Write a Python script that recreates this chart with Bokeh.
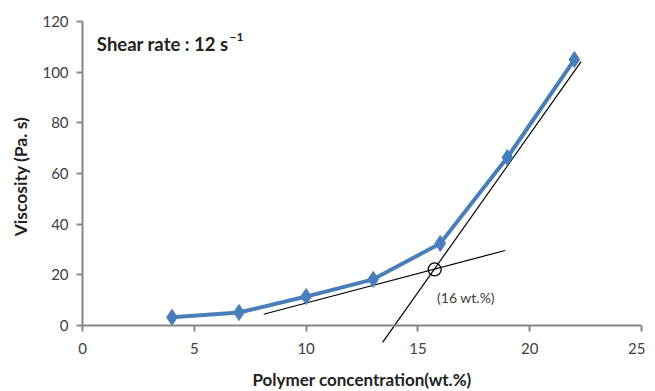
import math
from bokeh.plotting import figure
from bokeh.models import LinearAxis, Label, FixedTicker, Range1d
from bokeh.embed import file_html
from bokeh.resources import INLINE

concentration = [4, 7, 10, 13, 16, 19, 22]
viscosity = [3.2, 5.1, 11.4, 18.2, 32.4, 66.3, 105]

low_tangent_x = [8.1, 18.9]
low_tangent_y = [4.4, 29.6]
steep_tangent_x = [13.42, 22.3]
steep_tangent_y = [-6.7, 104.2]
crossing_x = [15.75]
crossing_y = [22.1]

x_ticks = [0, 5, 10, 15, 20, 25]
y_ticks = [0, 20, 40, 60, 80, 100, 120]

FONT = "Lato"
TXT = "#404040"
TITLE = "#222222"
AX = "#868686"

p = figure(frame_width=645, frame_height=376, output_backend="svg", toolbar_location=None,
           x_range=Range1d(-3.67, 25.18), y_range=Range1d(-25.7, 122.8),
           x_axis_location=None, y_axis_location=None,
           min_border_left=0, min_border_right=0, min_border_top=14, min_border_bottom=0)
p.outline_line_color = None
p.xgrid.visible = False
p.ygrid.visible = False

xa = LinearAxis(fixed_location=0, bounds=(0, 25), ticker=FixedTicker(ticks=x_ticks))
ya = LinearAxis(fixed_location=0, bounds=(0, 120), ticker=FixedTicker(ticks=y_ticks))
for ax in (xa, ya):
    ax.axis_line_color = AX
    ax.axis_line_width = 2
    ax.major_tick_line_color = AX
    ax.major_tick_line_width = 2
    ax.major_tick_out = 6
    ax.major_tick_in = 0
    ax.minor_tick_line_color = None
    ax.major_label_text_font = FONT
    ax.major_label_text_font_size = "15px"
    ax.major_label_text_color = TXT
xa.major_label_standoff = 12
ya.major_label_standoff = 8
p.add_layout(xa, "below")
p.add_layout(ya, "left")

p.add_layout(Label(x=12.5, y=-21.3, text="Polymer concentration(wt.%)",
                   text_font=FONT, text_font_size="17px", text_font_style="bold",
                   text_color=TITLE, text_align="center", text_baseline="middle"))
p.add_layout(Label(x=-2.77, y=58.8, text="Viscosity (Pa. s)", angle=math.pi / 2,
                   text_font=FONT, text_font_size="17.5px", text_font_style="bold",
                   text_color=TITLE, text_align="center", text_baseline="middle"))

p.line(low_tangent_x, low_tangent_y, line_color="black", line_width=1.2)
p.line(steep_tangent_x, steep_tangent_y, line_color="black", line_width=1.2)

p.line(concentration, viscosity, line_color="#4A7EBB", line_width=4)
p.scatter(concentration, viscosity, marker="diamond", size=16, fill_color="#4A7EBB", line_color="#4A7EBB")

p.scatter(crossing_x, crossing_y, marker="circle", size=13, fill_color=None, line_color="black", line_width=1.3)

p.add_layout(Label(x=17.15, y=11.0, text="(16 wt.%)", text_font=FONT, text_font_size="14px",
                   text_color=TXT, text_align="center", text_baseline="middle"))
p.add_layout(Label(x=6.53, y=111.3, text="Shear rate : 12 s", text_font=FONT,
                   text_font_size="18.5px", text_font_style="bold", text_color=TITLE,
                   text_align="right", text_baseline="alphabetic"))
p.add_layout(Label(x=6.53, y=111.3, x_offset=1, y_offset=7, text="\u22121", text_font=FONT,
                   text_font_size="12px", text_font_style="bold", text_color=TITLE,
                   text_align="left", text_baseline="alphabetic"))

open("out.html", "w").write(file_html(p, INLINE))
